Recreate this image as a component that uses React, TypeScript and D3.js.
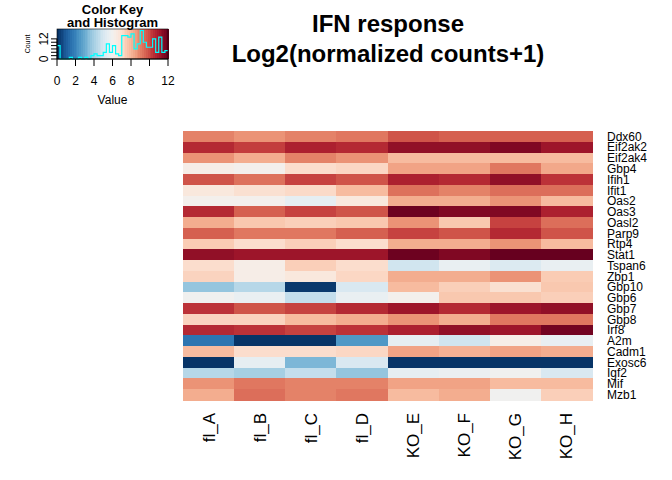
import { useEffect, useRef } from 'react';
import * as d3 from 'd3';

const samples = ['fl_A', 'fl_B', 'fl_C', 'fl_D', 'KO_E', 'KO_F', 'KO_G', 'KO_H'];

const genes = [
  'Ddx60', 'Eif2ak2', 'Eif2ak4', 'Gbp4', 'Ifih1', 'Ifit1', 'Oas2', 'Oas3', 'Oasl2',
  'Parp9', 'Rtp4', 'Stat1', 'Tspan6', 'Zbp1', 'Gbp10', 'Gbp6', 'Gbp7', 'Gbp8',
  'Irf8', 'A2m', 'Cadm1', 'Exosc6', 'Igf2', 'Mif', 'Mzb1',
];

// log2(normalized counts + 1), one row per gene, columns in sample order
const counts: number[][] = [
  [9.0, 8.7, 9.0, 9.2, 9.8, 9.6, 9.6, 9.6],
  [10.6, 10.2, 10.8, 10.6, 11.3, 11.3, 11.6, 11.1],
  [8.7, 8.2, 9.0, 8.7, 7.9, 7.9, 7.9, 7.9],
  [6.3, 6.1, 7.0, 7.2, 8.4, 8.4, 9.2, 8.3],
  [9.8, 9.3, 10.1, 9.8, 10.8, 10.6, 11.3, 10.4],
  [6.6, 6.9, 7.1, 7.9, 9.3, 9.0, 9.35, 9.35],
  [6.1, 6.1, 5.5, 6.6, 8.2, 8.2, 8.7, 7.9],
  [10.6, 9.6, 10.1, 9.8, 11.9, 11.6, 11.6, 10.8],
  [8.2, 7.6, 7.4, 7.6, 8.7, 7.6, 10.1, 9.35],
  [9.6, 9.2, 9.2, 9.6, 10.1, 9.8, 10.6, 9.8],
  [7.5, 7.0, 7.4, 7.0, 8.2, 8.2, 8.7, 7.9],
  [11.3, 11.1, 11.1, 11.1, 11.9, 11.6, 12.0, 12.0],
  [7.0, 6.3, 7.4, 7.0, 4.9, 5.6, 5.2, 5.6],
  [7.3, 6.3, 6.6, 7.2, 8.2, 8.2, 8.7, 7.5],
  [3.7, 4.3, 0.2, 5.1, 7.9, 7.4, 6.9, 7.6],
  [5.9, 5.6, 4.6, 5.6, 6.1, 7.6, 7.6, 7.4],
  [10.4, 9.8, 10.1, 10.6, 11.1, 10.6, 11.1, 11.3],
  [7.3, 7.3, 7.9, 8.2, 8.7, 8.2, 9.2, 9.2],
  [10.6, 10.4, 10.1, 10.4, 10.8, 11.3, 11.1, 11.8],
  [1.6, 0.1, 0.1, 2.5, 5.5, 4.9, 6.3, 5.6],
  [7.9, 7.0, 7.0, 7.2, 8.4, 8.1, 8.4, 8.2],
  [0.1, 5.5, 3.3, 5.1, 0.1, 0.1, 0.1, 0.1],
  [4.3, 4.0, 4.6, 3.7, 5.5, 5.7, 5.9, 5.1],
  [8.7, 9.2, 9.0, 9.0, 8.4, 8.4, 7.9, 7.9],
  [8.2, 9.35, 9.0, 9.2, 7.9, 8.2, 5.9, 7.4],
];

const keyTicks = [0, 2, 4, 6, 8, 10, 12];
const keyTickLabels = ['0', '2', '4', '6', '8', '', '12'];
const countTicks = [0, 2, 4, 6, 8, 10, 12];

const FONT = '"Liberation Sans", Arial, Helvetica, sans-serif';

const Heatmap = () => {
  const svgRef = useRef<SVGSVGElement>(null);

  useEffect(() => {
    if (!svgRef.current) return;
    const svg = d3.select(svgRef.current);
    svg.selectAll('*').remove();

    const color = d3.scaleSequential((t: number) => d3.interpolateRdBu(1 - t)).domain([0, 12]);

    // main grid
    const x = d3.scaleBand().domain(samples).range([183, 592]);
    const y = d3.scaleBand().domain(genes).range([131, 400]);

    const cells = genes.flatMap((g, i) => samples.map((s, j) => ({ g, s, v: counts[i][j] })));

    svg.append('g')
      .selectAll('rect')
      .data(cells)
      .enter()
      .append('rect')
      .attr('x', d => x(d.s)!)
      .attr('y', d => y(d.g)!)
      .attr('width', x.bandwidth() + 0.5)
      .attr('height', y.bandwidth() + 0.5)
      .attr('fill', d => color(d.v))
      .attr('shape-rendering', 'crispEdges');

    svg.append('g')
      .selectAll('text')
      .data(genes)
      .enter()
      .append('text')
      .attr('x', 607)
      .attr('y', d => y(d)! + y.bandwidth() / 2)
      .attr('dy', '0.36em')
      .style('font-family', FONT)
      .style('font-size', '12px')
      .text(d => d);

    svg.append('g')
      .selectAll('text')
      .data(samples)
      .enter()
      .append('text')
      .attr('transform', d => `translate(${x(d)! + x.bandwidth() / 2 + 6},413) rotate(-90)`)
      .attr('text-anchor', 'end')
      .style('font-family', FONT)
      .style('font-size', '17px')
      .text(d => d);

    // title
    const title = svg.append('text')
      .attr('text-anchor', 'middle')
      .style('font-family', FONT)
      .style('font-size', '24px')
      .style('font-weight', 'bold');
    title.append('tspan').attr('x', 388).attr('y', 32).text('IFN response');
    title.append('tspan').attr('x', 388).attr('y', 62).text('Log2(normalized counts+1)');

    // color key
    const kx = d3.scaleLinear().domain([0, 12]).range([57, 168]);
    const kTop = 29;
    const kBot = 59;
    const steps = d3.range(0, 12, 12 / 60);
    svg.append('g')
      .selectAll('rect')
      .data(steps)
      .enter()
      .append('rect')
      .attr('x', d => kx(d))
      .attr('y', kTop)
      .attr('width', kx(12 / 60) - kx(0) + 0.5)
      .attr('height', kBot - kTop)
      .attr('fill', d => color(d + 0.1))
      .attr('shape-rendering', 'crispEdges');

    const values = counts.flat();
    const bins = d3.bin().domain([0, 12]).thresholds(d3.range(0, 12, 1 / 3))(values);
    const maxCount = d3.max(bins, b => b.length) || 1;
    const ky = d3.scaleLinear().domain([0, maxCount]).range([kBot, kBot - (kBot - kTop) * 0.95]);

    const pts: [number, number][] = [];
    bins.forEach(b => {
      pts.push([kx(b.x0!), ky(b.length)]);
      pts.push([kx(b.x1!), ky(b.length)]);
    });
    svg.append('path')
      .attr('d', d3.line()(pts))
      .attr('fill', 'none')
      .attr('stroke', '#00ffff')
      .attr('stroke-width', 1.2);

    svg.append('rect')
      .attr('x', 57).attr('y', kTop)
      .attr('width', 111).attr('height', kBot - kTop)
      .attr('fill', 'none')
      .attr('stroke', '#000').attr('stroke-width', 0.6);

    const kAxis = svg.append('g').style('font-family', FONT).style('font-size', '12px');
    kAxis.append('line').attr('x1', kx(0)).attr('x2', kx(12)).attr('y1', kBot).attr('y2', kBot).attr('stroke', '#000');
    keyTicks.forEach((t, i) => {
      kAxis.append('line').attr('x1', kx(t)).attr('x2', kx(t)).attr('y1', kBot).attr('y2', kBot + 7).attr('stroke', '#000');
      kAxis.append('text').attr('x', kx(t)).attr('y', 85).attr('text-anchor', 'middle').text(keyTickLabels[i]);
    });
    kAxis.append('text').attr('x', kx(6)).attr('y', 104).attr('text-anchor', 'middle').text('Value');

    const cAxis = svg.append('g').style('font-family', FONT).style('font-size', '12px');
    cAxis.append('line').attr('x1', 57).attr('x2', 57).attr('y1', ky(0)).attr('y2', ky(12)).attr('stroke', '#000');
    countTicks.forEach(t => {
      cAxis.append('line').attr('x1', 51).attr('x2', 57).attr('y1', ky(t)).attr('y2', ky(t)).attr('stroke', '#000');
    });
    [0, 12].forEach(t => {
      cAxis.append('text')
        .attr('transform', `translate(48,${ky(t)}) rotate(-90)`)
        .attr('text-anchor', 'middle')
        .text(String(t));
    });
    svg.append('text')
      .attr('transform', `translate(30,${(kTop + kBot) / 2}) rotate(-90)`)
      .attr('text-anchor', 'middle')
      .style('font-family', FONT)
      .style('font-size', '7px')
      .text('Count');

    const keyTitle = svg.append('text')
      .attr('text-anchor', 'middle')
      .style('font-family', FONT)
      .style('font-size', '13px')
      .style('font-weight', 'bold');
    keyTitle.append('tspan').attr('x', kx(6)).attr('y', 14).text('Color Key');
    keyTitle.append('tspan').attr('x', kx(6)).attr('y', 27).text('and Histogram');
  }, []);

  return <svg ref={svgRef} width={672} height={480} style={{ position: 'absolute', left: 0, top: 0, background: '#fff' }} />;
};

export default function App() {
  return <Heatmap />;
}
